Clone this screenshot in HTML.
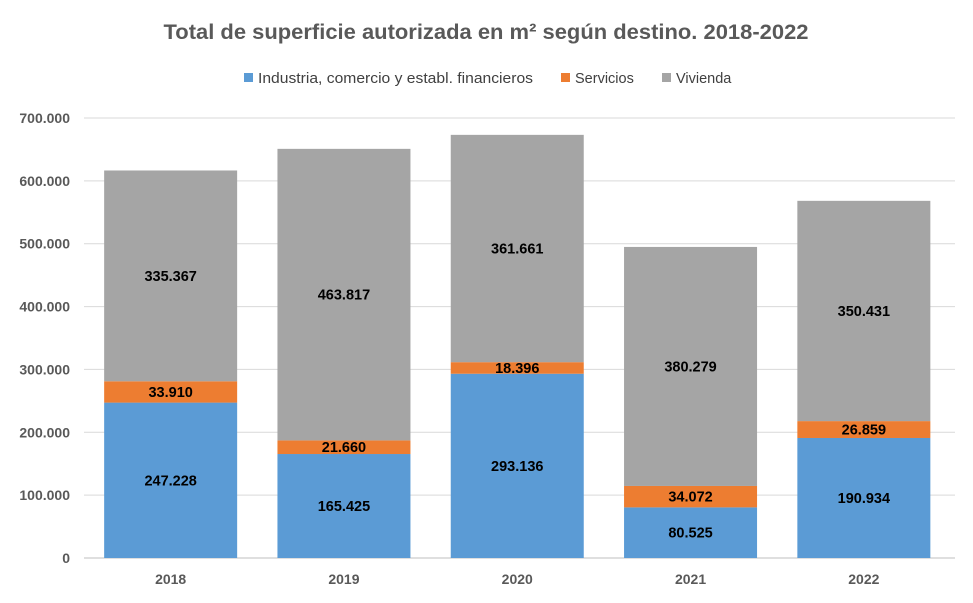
<!DOCTYPE html>
<html><head><meta charset="utf-8"><style>
body{margin:0;background:#fff;}
svg{display:block;font-family:"Liberation Sans",sans-serif;}
</style></head><body>
<svg id="chart" width="973" height="603" viewBox="0 0 973 603">
<rect x="0" y="0" width="973" height="603" fill="#fff"/>
<text x="486" y="39" text-anchor="middle" font-size="21.5" font-weight="bold" fill="#595959" textLength="645" lengthAdjust="spacingAndGlyphs">Total de superficie autorizada en m² según destino. 2018-2022</text>
<g>
<rect x="244" y="73" width="9" height="9" fill="#5b9bd5"/>
<text x="258" y="83" font-size="14.5" fill="#404040" textLength="275" lengthAdjust="spacingAndGlyphs">Industria, comercio y establ. financieros</text>
<rect x="561" y="73" width="9" height="9" fill="#ed7d31"/>
<text x="575" y="83" font-size="14.5" fill="#404040">Servicios</text>
<rect x="662" y="73" width="9" height="9" fill="#a5a5a5"/>
<text x="676" y="83" font-size="14.5" fill="#404040">Vivienda</text>
</g>
<g id="grid"></g><g id="bars"></g><g id="labels"></g>
</svg>
<script>
const categories=["2018","2019","2020","2021","2022"];
const industria=[247228,165425,293136,80525,190934];
const servicios=[33910,21660,18396,34072,26859];
const vivienda=[335367,463817,361661,380279,350431];
const yTicks=[0,100000,200000,300000,400000,500000,600000,700000];
const NS="http://www.w3.org/2000/svg";
const y0=558,yMax=700000,plotH=440,plotL=84,plotR=950.5,gridR=955;
const step=(plotR-plotL)/categories.length,bw=133;
const y=v=>y0-v/yMax*plotH;
const xC=i=>plotL+step*(i+0.5);
const fmt=v=>v.toLocaleString('de-DE');
function mk(tag,attrs,parent){const e=document.createElementNS(NS,tag);for(const k in attrs)e.setAttribute(k,attrs[k]);parent.appendChild(e);return e;}
const grid=document.getElementById('grid'),bars=document.getElementById('bars'),labels=document.getElementById('labels');
yTicks.forEach(t=>{
 const l=mk('line',{x1:plotL,x2:gridR,y1:y(t),y2:y(t),stroke:t===0?'#bfbfbf':'#d9d9d9','stroke-width':1},grid);
 
 
 const tx=mk('text',{x:70,y:y(t)+5,'text-anchor':'end','font-size':14,'font-weight':'bold',fill:'#595959'},grid);
 tx.textContent=t===0?'0':fmt(t);
 
 
});
const series=[["industria",industria,"#5b9bd5"],["servicios",servicios,"#ed7d31"],["vivienda",vivienda,"#a5a5a5"]];
categories.forEach((c,i)=>{
 let base=0;
 series.forEach(([n,arr,col])=>{
  const v=arr[i];
  const r=mk('rect',{x:xC(i)-bw/2,y:y(base+v),width:bw,height:y(base)-y(base+v),fill:col},bars);
  
  
  const t=mk('text',{x:xC(i),y:(y(base)+y(base+v))/2+5,'text-anchor':'middle','font-size':14.5,'font-weight':'bold',fill:'#000'},labels);
  t.textContent=fmt(v);
  
  
  base+=v;
 });
 const xl=mk('text',{x:xC(i),y:584,'text-anchor':'middle','font-size':14,'font-weight':'bold',fill:'#595959'},labels);
 xl.textContent=c;
 
 
});
</script>
</body></html>
